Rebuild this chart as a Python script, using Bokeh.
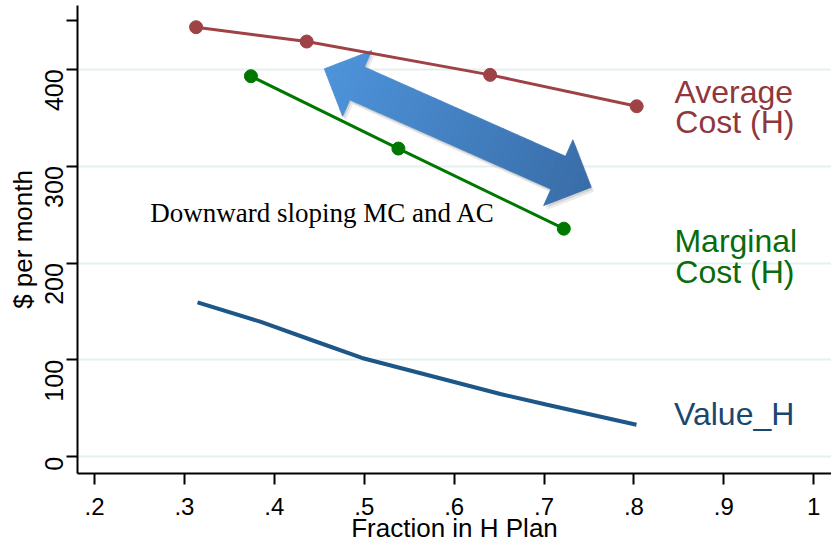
import math
import numpy as np
from bokeh.plotting import figure
from bokeh.models import FixedTicker, Range1d
from bokeh.core.properties import value
from bokeh.embed import file_html
from bokeh.resources import INLINE

# ---------------- data ----------------
ac_x = [0.313, 0.436, 0.640, 0.803]
ac_y = [443.5, 428.7, 394.3, 361.9]

mc_x = [0.374, 0.538, 0.722]
mc_y = [392.9, 318.2, 235.5]

val_x = [0.3146, 0.3843, 0.4437, 0.4975, 0.5735, 0.6514, 0.7034, 0.8028]
val_y = [159.4, 139.5, 119.8, 102.0, 83.7, 64.8, 53.7, 33.1]

x_ticks = [0.2, 0.3, 0.4, 0.5, 0.6, 0.7, 0.8, 0.9, 1.0]
x_tick_labels = [".2", ".3", ".4", ".5", ".6", ".7", ".8", ".9", "1"]
y_ticks = [0, 100, 200, 300, 400, 450]
y_tick_labels = ["0", "100", "200", "300", "400", ""]
y_grid = [0, 100, 200, 300, 400]

# annotation anchors (data units)
arrow_tail = (0.4556, 400.5)
arrow_tip = (0.7524, 278.2)

# ---------------- figure ----------------
W, H = 831, 545
BL, BB, BT = 77, 72, 5
X0, X1 = 0.1811, 1.0197
Y0, Y1 = -17.25, 465.9

p = figure(width=W, height=H, output_backend="svg", toolbar_location=None,
           x_range=Range1d(X0, X1), y_range=Range1d(Y0, Y1),
           min_border_left=BL, min_border_right=0, min_border_top=BT,
           min_border_bottom=BB)
p.outline_line_color = None
p.background_fill_color = "white"
p.border_fill_color = "white"

FONT = "Liberation Sans"

frame_w = W - BL
frame_h = H - BB - BT
sx = frame_w / (X1 - X0)
sy = frame_h / (Y1 - Y0)

# axes
p.xaxis.ticker = FixedTicker(ticks=x_ticks)
p.xaxis.major_label_overrides = {t: l for t, l in zip(x_ticks, x_tick_labels)}
p.yaxis.ticker = FixedTicker(ticks=y_ticks)
p.yaxis.major_label_overrides = {t: l for t, l in zip(y_ticks, y_tick_labels)}
for ax in (p.xaxis[0], p.yaxis[0]):
    ax.axis_line_width = 2
    ax.axis_line_color = "black"
    ax.major_tick_line_width = 2
    ax.major_tick_line_color = "black"
    ax.major_tick_out = 11
    ax.major_tick_in = 0
    ax.minor_tick_out = 0
    ax.minor_tick_in = 0
    ax.major_label_text_font = FONT
    ax.major_label_text_font_size = "24px"
    ax.major_label_text_color = "black"
    ax.axis_label_text_font = FONT
    ax.axis_label_text_font_size = "26px"
    ax.axis_label_text_font_style = "normal"
    ax.axis_label_text_color = "black"
    ax.axis_label_standoff = 0
p.yaxis.major_label_text_font_size = "25px"
p.xaxis.major_label_standoff = 13
p.xaxis.axis_label_standoff = -5
p.yaxis.major_label_standoff = 12
p.yaxis.axis_label_standoff = -4
p.yaxis.major_label_orientation = math.pi / 2
p.xaxis.axis_label = "Fraction in H Plan"
p.yaxis.axis_label = "$ per month"

p.xgrid.visible = False
p.ygrid.ticker = FixedTicker(ticks=y_grid)
p.ygrid.grid_line_color = "#e6efef"
p.ygrid.grid_line_width = 2

# ---------------- arrow (gradient double-headed) ----------------
P0 = np.array([arrow_tail[0] * sx, arrow_tail[1] * sy])
P1 = np.array([arrow_tip[0] * sx, arrow_tip[1] * sy])
vec = P1 - P0
L = float(np.hypot(*vec))
d = vec / L
n = np.array([-d[1], d[0]])
hl, hw, sw = 36.0, 36.0, 18.0


def half_width(t, side):
    if t < hl or (t == hl and side < 0):
        return hw * t / hl
    if t > L - hl or (t == L - hl and side > 0):
        return hw * (L - t) / hl
    return sw


def to_data(pt):
    return pt[0] / sx, pt[1] / sy


def outline():
    pts = []
    ts = [0, hl, hl, L - hl, L - hl, L]
    sides = [1, -1, 1, -1, 1, -1]
    for t, s in zip(ts, sides):
        pts.append(P0 + t * d + half_width(t, s) * n)
    for t, s in zip(ts[::-1], sides[::-1]):
        pts.append(P0 + t * d - half_width(t, s) * n)
    return pts


# shadow
for off, a in ((np.array([1.5, -2.5]), 0.10), (np.array([3.0, -4.5]), 0.08)):
    pts = [to_data(q + off) for q in outline()]
    p.patch([q[0] for q in pts], [q[1] for q in pts], fill_color="black",
            fill_alpha=a, line_color=None)

c0 = np.array([0x4e, 0x94, 0xdb])
c1 = np.array([0x39, 0x6d, 0xa8])
breaks = list(np.linspace(0, hl, 8)) + list(np.linspace(hl, L - hl, 30))[1:] + \
    list(np.linspace(L - hl, L, 8))[1:]
xs, ys, cols = [], [], []
for a, b in zip(breaks[:-1], breaks[1:]):
    wa = half_width(a, 1)
    wb = half_width(b, -1)
    q = [P0 + a * d + wa * n, P0 + b * d + wb * n,
         P0 + b * d - wb * n, P0 + a * d - wa * n]
    qd = [to_data(v) for v in q]
    xs.append([v[0] for v in qd])
    ys.append([v[1] for v in qd])
    f = ((a + b) / 2) / L
    c = (c0 * (1 - f) + c1 * f).astype(int)
    cols.append("#%02x%02x%02x" % tuple(c))
p.patches(xs, ys, fill_color=cols, line_color=cols, line_width=0.8)

# ---------------- series ----------------
ac_col = "#9e4246"
mc_col = "#007800"
val_col = "#1d5787"
p.line(val_x, val_y, line_color=val_col, line_width=4)
p.line(ac_x, ac_y, line_color=ac_col, line_width=3)
p.scatter(ac_x, ac_y, size=13, fill_color=ac_col, line_color=ac_col)
p.line(mc_x, mc_y, line_color=mc_col, line_width=3)
p.scatter(mc_x, mc_y, size=13, fill_color=mc_col, line_color=mc_col)

# ---------------- labels ----------------
lab_font = value(FONT)
TY = -10
p.text(x=[0.845, 0.846], y=[366.7, 335.7], text=["Average", "Cost (H)"],
       text_font=lab_font, text_font_size="32px", text_color="#8f373d",
       text_baseline="alphabetic", text_align="left", y_offset=TY)
p.text(x=[0.845, 0.846], y=[212.8, 180.8], text=["Marginal", "Cost (H)"],
       text_font=lab_font, text_font_size="32px", text_color="#086b0c",
       text_baseline="alphabetic", text_align="left", y_offset=TY)
p.text(x=[0.8445], y=[33.8], text=["Value_H"],
       text_font=lab_font, text_font_size="32px", text_color="#1a476f",
       text_baseline="alphabetic", text_align="left", y_offset=TY)
p.text(x=[0.262], y=[241.0], text=["Downward sloping MC and AC"],
       text_font=value("Liberation Serif"), text_font_size="27px",
       text_color="black", text_baseline="alphabetic", text_align="left",
       y_offset=TY)

open("out.html", "w").write(file_html(p, INLINE))
